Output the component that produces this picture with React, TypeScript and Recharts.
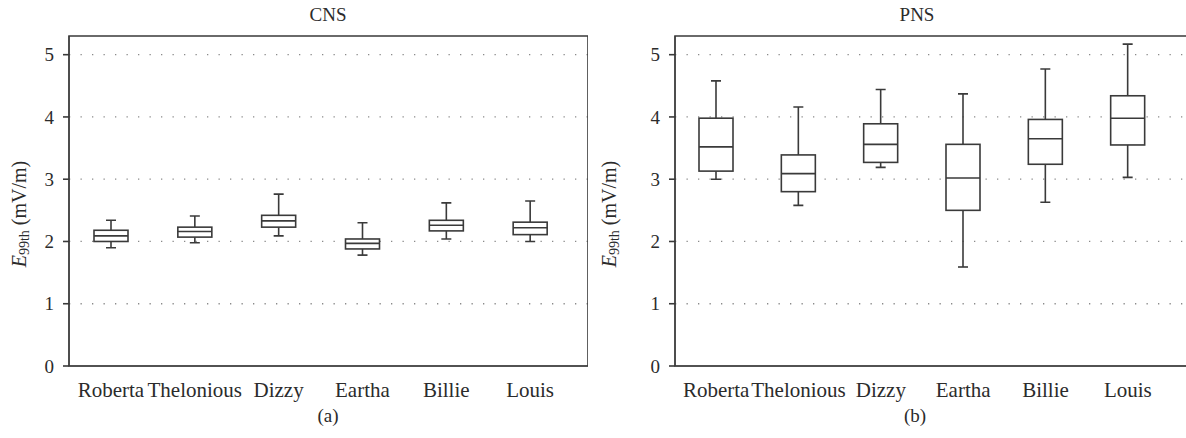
import React from "react";
import { ComposedChart, Bar, XAxis, YAxis, CartesianGrid, ReferenceArea } from "recharts";

// ── data ──────────────────────────────────────────────────────────────────
const subjects = ["Roberta", "Thelonious", "Dizzy", "Eartha", "Billie", "Louis"];

const cnsMin = [1.9, 1.98, 2.09, 1.78, 2.04, 2.0];
const cnsQ1 = [2.0, 2.07, 2.23, 1.88, 2.17, 2.11];
const cnsMedian = [2.09, 2.16, 2.33, 1.97, 2.26, 2.22];
const cnsQ3 = [2.18, 2.23, 2.42, 2.04, 2.34, 2.31];
const cnsMax = [2.34, 2.41, 2.76, 2.3, 2.62, 2.65];

const pnsMin = [3.0, 2.58, 3.19, 1.59, 2.63, 3.03];
const pnsQ1 = [3.13, 2.8, 3.27, 2.5, 3.24, 3.55];
const pnsMedian = [3.52, 3.09, 3.56, 3.02, 3.65, 3.98];
const pnsQ3 = [3.98, 3.39, 3.89, 3.56, 3.96, 4.34];
const pnsMax = [4.58, 4.16, 4.44, 4.37, 4.77, 5.17];

const yTicks = [0, 1, 2, 3, 4, 5];
const gridValues = [1, 2, 3, 4, 5];
const yMax = 5.3;

type BoxRow = { name: string; min: number; q1: number; median: number; q3: number; max: number };

function buildRows(mn: number[], q1: number[], md: number[], q3: number[], mx: number[]): BoxRow[] {
  return subjects.map((name, i) => ({ name, min: mn[i], q1: q1[i], median: md[i], q3: q3[i], max: mx[i] }));
}

const cnsRows = buildRows(cnsMin, cnsQ1, cnsMedian, cnsQ3, cnsMax);
const pnsRows = buildRows(pnsMin, pnsQ1, pnsMedian, pnsQ3, pnsMax);

// ── styles ────────────────────────────────────────────────────────────────
const FONT = "'Liberation Serif', 'Times New Roman', serif";
const INK = "#2b2b2b";
const LINE = "#3a3a3a";

// box + whiskers, drawn inside the min..max range bar
function BoxShape(props: any) {
  const { x, y, width, height, payload } = props;
  if (x == null || y == null) return null;
  const top = Math.min(y, y + height);
  const h = Math.abs(height);
  const { min, max, q1, median, q3 } = payload as BoxRow;
  const py = (v: number) => top + ((max - v) / (max - min)) * h;
  const cx = x + width / 2;
  const cap = 5;
  return (
    <g stroke={LINE} strokeWidth={1.6} fill="none">
      <line x1={cx} x2={cx} y1={py(max)} y2={py(q3)} />
      <line x1={cx} x2={cx} y1={py(q1)} y2={py(min)} />
      <line x1={cx - cap} x2={cx + cap} y1={py(max)} y2={py(max)} />
      <line x1={cx - cap} x2={cx + cap} y1={py(min)} y2={py(min)} />
      <rect x={x} y={py(q3)} width={width} height={py(q1) - py(q3)} fill="#fff" />
      <line x1={x} x2={x + width} y1={py(median)} y2={py(median)} />
    </g>
  );
}

function YLabel(props: any) {
  const vb = props.viewBox || { x: 0, y: 0, width: 0, height: 0 };
  const cx = vb.x + 19;
  const cy = vb.y + vb.height / 2 + 13;
  return (
    <text
      x={cx}
      y={cy}
      transform={`rotate(-90, ${cx}, ${cy})`}
      textAnchor="middle"
      dominantBaseline="central"
      fontFamily={FONT}
      fontSize={20}
      fill={INK}
    >
      <tspan fontStyle="italic">E</tspan>
      <tspan fontSize={14} dy={5}>99th</tspan>
      <tspan dy={-5}> (mV/m)</tspan>
    </text>
  );
}

type PanelProps = { rows: BoxRow[]; width: number; yAxisWidth: number; padRight: number };

function BoxPanel({ rows, width, yAxisWidth, padRight }: PanelProps) {
  return (
    <ComposedChart
      width={width}
      height={438}
      data={rows}
      margin={{ top: 36, right: 0, bottom: 42, left: 0 }}
    >
      <CartesianGrid
        vertical={false}
        horizontalValues={gridValues}
        stroke="#8a8a8a"
        strokeWidth={1.3}
        strokeDasharray="1.3 10.2"
      />
      <XAxis
        dataKey="name"
        stroke={LINE}
        axisLine
        tickLine={false}
        height={30}
        tickMargin={10}
        interval={0}
        padding={{ left: 0, right: padRight }}
        tick={{ fill: INK, fontSize: 21, fontFamily: FONT }}
      />
      {/* hidden axis with no padding, so its range covers the whole plot */}
      <XAxis xAxisId="frame" type="number" hide />
      <YAxis
        domain={[0, yMax]}
        ticks={yTicks}
        allowDataOverflow
        width={yAxisWidth}
        stroke={LINE}
        axisLine
        tickLine={{ stroke: LINE, strokeWidth: 1.6 }}
        tickSize={6}
        tickMargin={9}
        tick={{ fill: INK, fontSize: 19, fontFamily: FONT }}
        label={<YLabel />}
      />
      {/* plot frame */}
      <ReferenceArea
        xAxisId="frame"
        y1={0}
        y2={yMax}
        ifOverflow="visible"
        fill="none"
        stroke={LINE}
        strokeWidth={1.6}
      />
      <Bar
        dataKey={(d: BoxRow) => [d.min, d.max]}
        barSize={34}
        shape={<BoxShape />}
        isAnimationActive={false}
      />
    </ComposedChart>
  );
}

const captionStyle: React.CSSProperties = {
  position: "absolute",
  fontFamily: FONT,
  fontSize: 19,
  lineHeight: "19px",
  color: INK,
  transform: "translateX(-50%)",
  whiteSpace: "nowrap",
};

export default function App() {
  return (
    <div style={{ position: "absolute", left: 0, top: 0, width: 1186, height: 438, overflow: "hidden", background: "#fff" }}>
      <style>{"body{margin:0;overflow:hidden}"}</style>
      <div style={{ position: "absolute", left: 0, top: 0 }}>
        <BoxPanel rows={cnsRows} width={588} yAxisWidth={69} padRight={16} />
      </div>
      <div style={{ position: "absolute", left: 590, top: 0 }}>
        <BoxPanel rows={pnsRows} width={600} yAxisWidth={85} padRight={21} />
      </div>
      <div style={{ ...captionStyle, left: 328, top: 5 }}>CNS</div>
      <div style={{ ...captionStyle, left: 917, top: 5 }}>PNS</div>
      <div style={{ ...captionStyle, left: 328, top: 406 }}>(a)</div>
      <div style={{ ...captionStyle, left: 915, top: 406 }}>(b)</div>
    </div>
  );
}
